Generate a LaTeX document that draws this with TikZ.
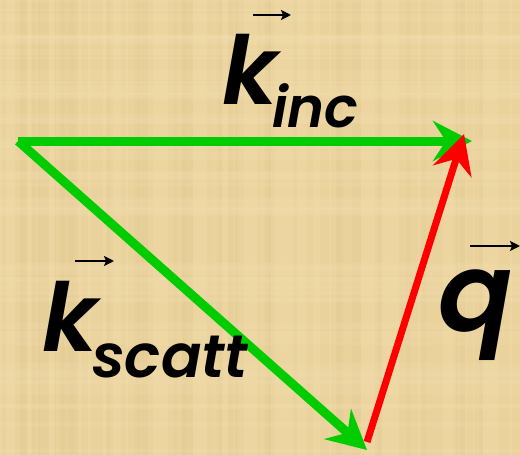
\documentclass[tikz,border=0pt]{standalone}
\usepackage{fontspec}
\newfontfamily\labfont{Poppins}[BoldFont={* SemiBold}, BoldItalicFont={* SemiBold Italic}]
\usetikzlibrary{arrows.meta}
\definecolor{parch}{RGB}{236,213,160}
\definecolor{parchdark}{RGB}{214,188,128}
\definecolor{parchlight}{RGB}{245,226,180}
\definecolor{vgreen}{RGB}{0,204,0}
\definecolor{vred}{RGB}{255,0,0}
\tikzset{
  bigarrow/.style={line width=#1, -{Stealth[length=39pt,width=40pt,inset=13pt]}},
  greenvec/.style={bigarrow=9pt, draw=vgreen, color=vgreen},
  redvec/.style={bigarrow=7pt, draw=vred, color=vred},
  vecmark/.style={line width=2pt, black, -{Stealth[length=10pt,width=10pt,inset=2pt]}},
  lab/.style={inner sep=0pt, anchor=base west, text=black, font=\labfont\bfseries\itshape},
}
\begin{document}
\begin{tikzpicture}[x=1pt,y=-1pt]
\useasboundingbox (0,0) rectangle (520,455);
\fill[parch] (0,0) rectangle (520,455);
\pgfmathsetseed{7}
\foreach \i in {1,...,70}{
  \pgfmathsetmacro{\xx}{rnd*520}
  \pgfmathsetmacro{\ww}{2+rnd*10}
  \fill[parchdark, opacity=0.10] (\xx,0) rectangle ++(\ww,455);
}
\foreach \i in {1,...,50}{
  \pgfmathsetmacro{\yy}{rnd*455}
  \pgfmathsetmacro{\hh}{2+rnd*8}
  \fill[parchlight, opacity=0.18] (0,\yy) rectangle ++(520,\hh);
}
% vertices
\coordinate (O) at (18,141);
\coordinate (A) at (472,141);
\coordinate (B) at (367,450);
\coordinate (Bs) at (367,442);
\coordinate (At) at (464,134);
% vectors
\draw[greenvec] (O) -- (A);
\draw[greenvec] (O) -- (B);
\draw[redvec] (Bs) -- (At);
% labels
\node[lab, font=\labfont\bfseries\itshape\fontsize{95}{95}\selectfont] (kinc) at (222,104) {k};
\node[lab, font=\labfont\bfseries\itshape\fontsize{56}{56}\selectfont] (inc) at (272,127) {inc};
\coordinate (kincL) at (253,15);
\coordinate (kincR) at (291,15);
\draw[vecmark] (kincL) -- (kincR);
\node[lab, font=\labfont\bfseries\itshape\fontsize{95}{95}\selectfont] (ksc) at (42,351) {k};
\node[lab, font=\labfont\bfseries\itshape\fontsize{60}{60}\selectfont] (scatt) at (92,377) {scatt};
\coordinate (kscL) at (75,261);
\coordinate (kscR) at (114,261);
\draw[vecmark] (kscL) -- (kscR);
\node[lab, font=\labfont\bfseries\itshape\fontsize{110}{110}\selectfont] (q) at (438,331) {q};
\coordinate (qL) at (470,246);
\coordinate (qR) at (520,246);
\draw[vecmark] (qL) -- (qR);
\end{tikzpicture}
\end{document}
